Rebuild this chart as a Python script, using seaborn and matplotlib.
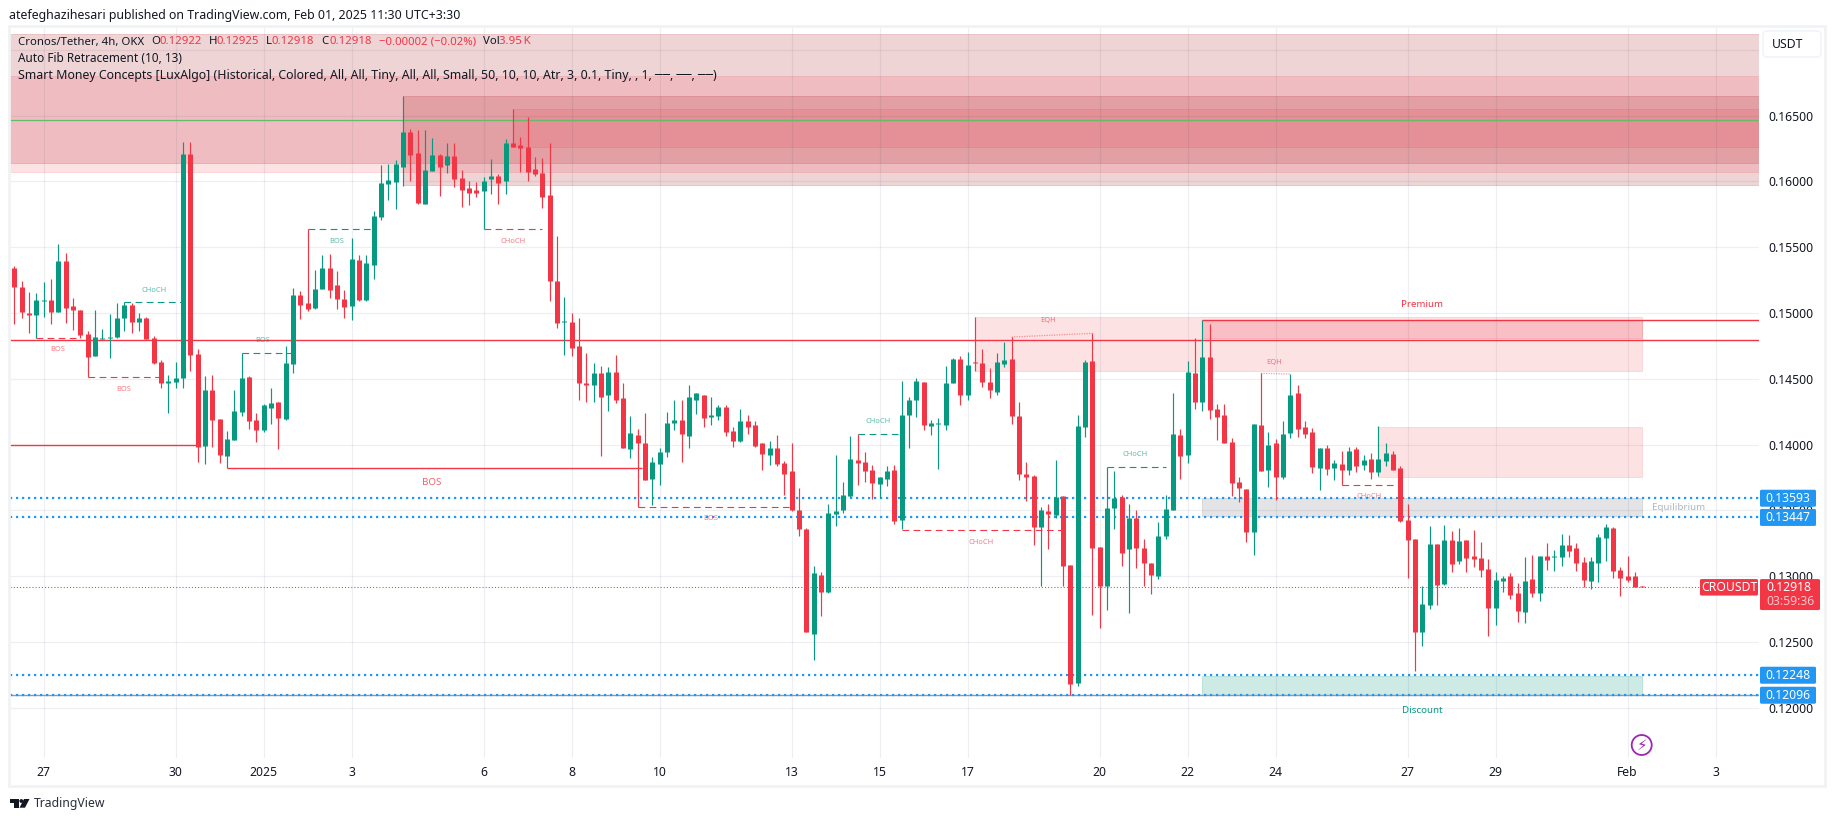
import matplotlib
matplotlib.use('Agg')
import matplotlib.pyplot as plt
from matplotlib.patches import Rectangle, FancyBboxPatch, Circle, Polygon
from matplotlib.transforms import IdentityTransform
import pandas as pd
import seaborn as sns

# candles, price in 1e-5 USDT, one 4h bar per entry
opens = [15343,15199,15003,14987,15093,15101,15010,15396,15056,15025,
14843,14677,14806,14813,14821,14965,15063,14934,14965,14813,
14631,14465,14480,14510,16207,14692,13987,14412,14192,13912,
14033,14245,14518,14184,14109,14275,14328,14192,14616,15139,
15078,15040,15184,15343,15215,15109,15056,15404,15101,15366,
15730,15980,15995,16109,16374,16215,15828,16078,16200,16124,
16192,16025,15950,15935,15927,16018,16041,16003,16291,16275,
16260,16094,16063,15897,15245,14929,14934,14753,14472,14450,
14548,14374,14556,14351,13965,14071,14010,13737,13851,13942,
14162,14184,14063,14343,14381,14207,14215,14290,14101,14025,
14177,14147,14010,13919,13972,13859,13798,13503,13359,12563,
13010,12881,13472,13503,13609,13881,13866,13806,13700,13737,
13806,13427,14222,14343,14480,14139,14154,14147,14465,14654,
14374,14625,14624,14480,14404,14616,14654,14215,13775,13760,
13374,13495,13465,13609,13086,12192,14131,14639,13222,12927,
13518,13601,13207,13442,13215,13101,13003,13306,13503,14071,
13919,14548,14328,14669,14268,14222,14018,13715,13662,13336,
14147,13806,14010,13753,14086,14396,14131,14094,13821,13972,
13821,13851,13806,13965,13844,13889,13791,13874,13927,13821,
13427,13283,12579,12783,13245,12942,13275,13116,13275,13154,
13139,13056,12760,12965,13003,12874,12730,12980,12874,13154,
13147,13147,13238,13215,13109,12965,13101,13291,13366,13048,
13003,13003,12926]
highs = [15359,15245,15162,15154,15237,15260,15525,15457,15116,15025,
14866,15025,14881,14995,15078,15083,15078,15003,14972,14828,
14647,14533,14631,16298,16298,14730,14525,14533,14192,14101,
14419,14697,14525,14237,14306,14434,14328,14753,15192,15169,
15636,15328,15442,15449,15321,15177,15571,15442,15442,15775,
16124,16131,16162,16647,16397,16389,16389,16328,16207,16291,
16291,16086,16003,15995,16033,16169,16056,16321,16548,16336,
16487,16184,16177,16291,15586,15124,15003,14965,14700,14624,
14601,14593,14684,14465,14215,14116,14237,13904,13972,14245,
14343,14336,14457,14396,14381,14359,14298,14298,14131,14268,
14222,14177,14010,14025,14071,13874,14010,13669,13366,13078,
13033,13548,13919,13715,14063,14083,13942,13844,13753,13836,
13844,14487,14359,14503,14480,14184,14200,14601,14662,14677,
14707,14970,14730,14586,14700,14783,14821,14321,13866,13768,
13525,13548,13881,13609,13086,14222,14646,14849,13222,13833,
13798,13616,13548,13503,13283,13101,13412,13616,14396,14116,
14639,14813,14947,14919,14306,14306,14048,13753,13662,14154,
14545,14094,14040,14177,14540,14457,14177,14124,13972,13995,
13881,13950,13980,13980,13919,13934,14139,14010,13950,13836,
13548,13283,12927,13381,13245,13389,13344,13366,13275,13351,
13260,13131,13033,13003,13025,12950,13147,13162,13154,13253,
13200,13321,13313,13253,13147,13147,13321,13397,13374,13071,
13154,13033,12926]
lows = [14919,14965,14851,14811,14972,14919,15010,14927,14874,14811,
14515,14677,14806,14662,14813,14866,14851,14866,14806,14616,
14434,14237,14427,14434,14563,13866,13851,13980,13859,13826,
14033,14215,14116,14018,14094,14154,13965,14184,14548,14957,
15018,15033,15184,15116,15033,14965,14950,15093,15093,15260,
15707,15859,15791,15965,16003,15828,15828,16078,15889,16063,
15957,15806,15821,15881,15637,15904,15828,15904,16260,16071,
16003,16041,15798,15094,14889,14684,14677,14336,14321,14321,
13912,14253,14313,13972,13897,13530,13730,13541,13692,13904,
14109,13866,13972,14230,14131,14147,14184,14063,13980,14018,
14078,13980,13806,13844,13836,13616,13495,13306,12579,12366,
12700,12874,13381,13480,13601,13692,13715,13586,13594,13684,
13397,13356,13972,14207,14109,14071,13813,14109,14465,14298,
14343,14563,14442,14351,14381,14593,14154,13730,13571,13238,
12927,13207,13442,12927,12096,12169,14056,12707,12609,12745,
13359,13078,12722,13063,12927,12866,12980,13283,13503,13737,
13859,14268,14253,14192,14033,14010,13609,13563,13260,13162,
13798,13677,13578,13737,14048,14056,14048,13783,13654,13768,
13730,13697,13768,13791,13806,13737,13760,13836,13806,13412,
12988,12283,12473,12753,12783,12935,13033,13094,13033,13071,
12995,12548,12632,12881,12828,12654,12647,12844,12813,13048,
13041,13078,13147,13041,12919,12904,12957,13116,12988,12851,
12957,12919,12918]
closes = [15202,15005,14987,15101,15101,15010,15396,15040,15025,14836,
14669,14821,14814,14821,14965,15063,14934,14965,14806,14624,
14465,14487,14503,16207,14684,13980,14412,14184,13919,14041,
14253,14510,14177,14109,14298,14313,14200,14624,15139,15063,
15033,15184,15343,15177,15109,15048,15412,15101,15381,15738,
15988,16010,16131,16374,16200,15836,16086,16200,16109,16192,
16018,15935,15912,15912,16003,16041,15988,16291,16260,16253,
16071,16056,15881,15245,14927,14937,14737,14465,14450,14548,
14366,14556,14343,13972,14086,14010,13730,13866,13942,14162,
14184,14078,14366,14396,14200,14222,14290,14094,14025,14177,
14131,13987,13927,13972,13851,13775,13503,13359,12579,13025,
12881,13480,13495,13616,13889,13859,13798,13707,13753,13798,
13419,14222,14343,14487,14147,14162,14162,14472,14654,14374,
14609,14617,14480,14412,14631,14646,14215,13775,13753,13374,
13503,13472,13601,13078,12185,14139,14631,13215,12927,13518,
13594,13177,13442,13215,13101,13010,13306,13510,14078,13912,
14556,14328,14669,14260,14207,14010,13707,13669,13336,14154,
13798,13995,13753,14078,14374,14116,14078,13828,13972,13813,
13859,13806,13950,13836,13881,13791,13889,13934,13806,13419,
13275,12579,12791,13245,12935,13275,13094,13268,13139,13131,
13048,12760,12972,12988,12859,12738,12965,12874,13154,13124,
13155,13238,13192,13101,12972,13116,13298,13374,13041,12988,
12972,12919,12918]

# day labels and the bar they fall on
day_labels = ['27','30','2025','3','6','8','10','13','15','17','20','22','24','27','29','Feb','3']
day_bars = [4,22,34,46,64,76,88,106,118,130,148,160,172,190,202,220,232]
price_ticks = [0.12,0.125,0.13,0.135,0.14,0.145,0.15,0.155,0.16,0.165,0.17]
price_labels = ['0.12000','0.12500','0.13000','0.13500','0.14000','0.14500','0.15000','0.15500','0.16000','0.16500','']

# supply / demand zones: low, high, first bar, last bar
zone_low = [16143,16074,15971,16264,14562,14813,13756,13458,12096]
zone_high = [17121,16802,16650,16551,14968,14945,14134,13593,12244]
zone_start = [-1,-1,53,68,131,162,186,162,162]
zone_end = [240,240,240,240,222,222,222,222,222]
zone_color = ['#b22833','#f23645','#b22833','#f23645','#f23645','#f23645','#f23645','#787b86','#089981']
zone_alpha = [.2,.14,.2,.14,.14,.2,.14,.2,.2]

# market structure levels: bar from, bar to, price, colour
dash_start = [3,10,15,31,40,64,85,115,121,149,181]
dash_end = [9,20,23,38,49,72,106,121,143,157,189]
dash_price = [14808,14512,15082,14694,15637,15637,13524,14079,13349,13828,13691]
dash_up = [0,0,1,1,1,0,0,1,0,1,0]
label_text = ['BOS','BOS','CHoCH','BOS','BOS','CHoCH','BOS','CHoCH','CHoCH','CHoCH','CHoCH']
label_bar = [5.9,14.9,19,33.9,43.9,68,95,117.8,131.9,152.9,184.8]
label_price = [14724,14421,15170,14790,15543,15543,13437,14175,13255,13927,13604]

solid_start = [-1,-1,29,162]
solid_end = [240,25,85.6,240]
solid_price = [14793,13995,13820,14945]

eqh_bars = [[136,147],[170,174]]
eqh_prices = [[14818,14846],[14542,14537]]
eqh_label_bar = [141,171.8]
eqh_label_price = [14940,14627]

level_prices = [13593,13447,12248,12096]
level_tags = ['0.13593','0.13447','0.12248','0.12096']
last_price = 12918
fib_price = 16465

W, H = 1835, 821
GREEN, RED, INK = '#089981', '#f23645', '#131722'

sns.set_theme(style='white')
plt.rcParams['font.family'] = ['Noto Sans', 'DejaVu Sans']

rows = []
for i in range(len(opens)):
    d = 'up' if closes[i] >= opens[i] else 'down'
    rows.append((i, 'wick', d, lows[i]/1e5))
    rows.append((i, 'wick', d, highs[i]/1e5))
    rows.append((i, 'body', d, min(opens[i], closes[i])/1e5))
    rows.append((i, 'body', d, max(opens[i], closes[i])/1e5))
df = pd.DataFrame(rows, columns=['bar','part','dir','price'])

fig = plt.figure(figsize=(W/100, H/100), dpi=100)
ax = fig.add_axes([10/W, 1-758/H, 1749/W, 731/H])

for lo, hi, a, b, c, al in zip(zone_low, zone_high, zone_start, zone_end, zone_color, zone_alpha):
    ax.add_patch(Rectangle((a, lo/1e5), b-a, (hi-lo)/1e5, facecolor=c, alpha=al, edgecolor=c, lw=0.7, zorder=1))

ax.hlines([p/1e5 for p in solid_price], solid_start, solid_end, color=RED, lw=1.0, zorder=2.6)
for a, b, p, up in zip(dash_start, dash_end, dash_price, dash_up):
    ax.hlines(p/1e5, a, b, color=GREEN if up else RED, lw=0.8, linestyles=(0, (6, 4)), zorder=2.6)
for t, b, p, up in zip(label_text, label_bar, label_price, dash_up):
    ax.text(b, p/1e5, t, color=GREEN if up else RED, alpha=.65, fontsize=5.4, ha='center', va='center')
for bars, prices in zip(eqh_bars, eqh_prices):
    ax.plot(bars, [p/1e5 for p in prices], color=RED, alpha=.5, lw=0.9, ls=(0, (1, 1)), zorder=2.6)
for b, p in zip(eqh_label_bar, eqh_label_price):
    ax.text(b, p/1e5, 'EQH', color=RED, alpha=.65, fontsize=5.4, ha='center', va='center')

ax.axhline(fib_price/1e5, color='#66bb6a', lw=0.9, zorder=2.6)
ax.axhline(level_prices[3]/1e5, color='#9598a1', lw=1.0, zorder=2.6)
for p in level_prices:
    ax.axhline(p/1e5, color='#2196f3', lw=1.6, ls=(0, (1, 1.7)), zorder=2.7)
ax.hlines(last_price/1e5, -1, 229.9, color=RED, lw=0.75, linestyles=(0, (1, 2)), zorder=2.7)

palette = {'up': GREEN, 'down': RED}
sns.lineplot(data=df[df.part == 'wick'], x='bar', y='price', hue='dir', units='bar', estimator=None,
             palette=palette, sort=False, legend=False, lw=0.85, solid_capstyle='butt', zorder=3, ax=ax)
sns.lineplot(data=df[df.part == 'body'], x='bar', y='price', hue='dir', units='bar', estimator=None,
             palette=palette, sort=False, legend=False, lw=3.6, solid_capstyle='butt', zorder=3.1, ax=ax)

ax.text(56.9, 0.13709, 'BOS', color=RED, alpha=.8, fontsize=7, ha='center', va='center')
ax.text(192, 0.15069, 'Premium', color=RED, fontsize=7, ha='center', va='center')
ax.text(192, 0.11979, 'Discount', color=GREEN, fontsize=7, ha='center', va='center')
ax.text(227, 0.13524, 'Equilibrium', color='#b2b5be', fontsize=7, ha='center', va='center')

ax.set_xlim(-0.586, 237.92)
ax.set_ylim(0.11619, 0.17174)
ax.set_xticks(day_bars)
ax.set_xticklabels(day_labels)
ax.set_yticks(price_ticks)
ax.set_yticklabels(price_labels)
ax.yaxis.tick_right()
ax.tick_params(axis='both', length=0, labelsize=8.8, labelcolor=INK)
ax.tick_params(axis='y', pad=6.5)
ax.tick_params(axis='x', pad=6)
ax.get_xticklabels()[2].set_fontweight('bold')
ax.set_xlabel('')
ax.set_ylabel('')
ax.set_axisbelow(False)
ax.grid(True, color=(0.1, 0.13, 0.3), alpha=.07, lw=0.9)
for s in ax.spines.values():
    s.set_visible(False)

def txt(x, y, s, **kw):
    kw.setdefault('color', INK)
    kw.setdefault('fontsize', 9)
    kw.setdefault('va', 'center')
    fig.text(x/W, 1-y/H, s, zorder=5, **kw)

def box(x0, y0, x1, y1, fc, ec='none', rnd=1.5):
    fig.add_artist(FancyBboxPatch((x0, H-y1), x1-x0, y1-y0, boxstyle='round,pad=0,rounding_size=%g' % rnd,
                                  fc=fc, ec=ec, lw=1.2, transform=IdentityTransform(), zorder=4))

fig.add_artist(Rectangle((9, H-786), 1816, 760, fill=False, ec='#f1f2f4', lw=2,
                         transform=IdentityTransform(), zorder=1))

txt(9, 15, 'atefeghazihesari published on TradingView.com, Feb 01, 2025 11:30 UTC+3:30', fontsize=8.9)

txt(17.5, 42, 'Cronos/Tether, 4h, OKX', fontsize=8.2)
for x, s in zip([151, 208.7, 266, 321, 483], ['O', 'H', 'L', 'C', 'Vol']):
    txt(x, 42, s, fontsize=8.2)
for x, s in zip([159, 216.6, 272, 329, 378.7, 499],
                ['0.12922', '0.12925', '0.12918', '0.12918', '\u22120.00002 (\u22120.02%)', '3.95\u2009K']):
    txt(x, 42, s, fontsize=8.2, color=RED)
txt(17.5, 59, 'Auto Fib Retracement (10, 13)', fontsize=8.5)
txt(17.5, 76, 'Smart Money Concepts [LuxAlgo] (Historical, Colored, All, All, Tiny, All, All, Small, '
              '50, 10, 10, Atr, 3, 0.1, Tiny, , 1, \u2500\u2500, \u2500\u2500, \u2500\u2500)', fontsize=8.9)

box(1763, 31, 1821, 57, 'white', '#f0f3fa', 4)
txt(1772, 44, 'USDT', fontsize=8.8)

for p, t in zip(level_prices, level_tags):
    yc = H - ax.transData.transform((0, p/1e5))[1]
    box(1760, yc-8.5, 1816, yc+8.5, '#2196f3')
    txt(1788, yc, t, color='white', fontsize=8.8, ha='center', fontweight='semibold')

yc = H - ax.transData.transform((0, last_price/1e5))[1]
box(1700, yc-8, 1758, yc+8.5, RED)
txt(1729, yc, 'CROUSDT', color='white', fontsize=8.8, ha='center')
box(1760, yc-8, 1820, yc+23, RED)
txt(1789, yc, '0.12918', color='white', fontsize=8.8, ha='center', fontweight='semibold')
txt(1790, yc+14.5, '03:59:36', color='#fbc4c9', fontsize=8.8, ha='center')

fig.add_artist(Circle((1641.7, H-745), 10, fc='white', ec='#9c27b0', lw=1.3,
                      transform=IdentityTransform(), zorder=4))
fig.text(1641.7/W, 1-745/H, '\u26a1', color='#9c27b0', fontsize=11, ha='center', va='center',
         family='DejaVu Sans', zorder=5)

# logo
for pts in ([(10, 799), (18.5, 799), (18.5, 807.7), (14, 807.7), (14, 802.6), (10, 802.6)],
            [(24, 799), (29.5, 799), (25, 807.7), (19.5, 807.7)]):
    fig.add_artist(Polygon([(x, H-y) for x, y in pts], fc=INK, ec='none', transform=IdentityTransform(), zorder=4))
fig.add_artist(Circle((21.3, H-801), 1.9, fc=INK, ec='none', transform=IdentityTransform(), zorder=4))
txt(33.5, 803.5, 'TradingView', fontsize=8.8, color='#2a2e39')

fig.savefig('out.png', dpi=100)
